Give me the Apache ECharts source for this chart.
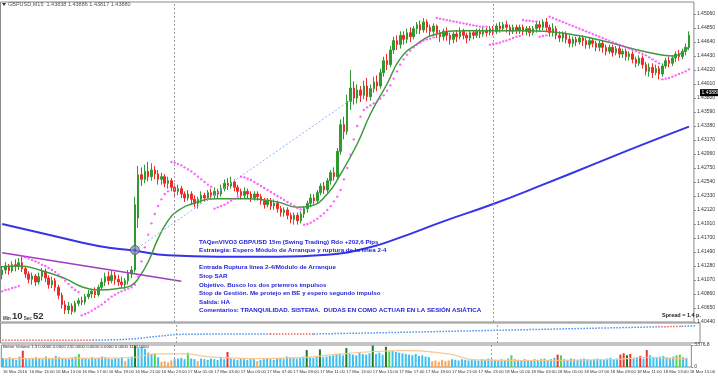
<!DOCTYPE html>
<html><head><meta charset="utf-8">
<script src="https://cdn.jsdelivr.net/npm/echarts@6/dist/echarts.min.js"></script>
<style>html,body{margin:0;padding:0;background:#fff}#c{width:718px;height:376px}</style>
</head><body><div id="c"></div>
<script>
// ---------- DATA ----------
const startTime = '2016-03-16T11:00:00Z';
const barMinutes = 15;
const headerText = 'GBPUSD,M15  1.43838 1.43886 1.43817 1.43880';
const bidPrice = 1.43880;
const priceMin = 1.4044, priceMax = 1.4524, priceStep = 0.0021;

// [open, close, low, high]
const candles = [
[1.4115,1.4122,1.4108,1.4128],[1.4122,1.4128,1.4116,1.4134],[1.4128,1.4121,1.4115,1.4131],[1.4121,1.4130,1.4118,1.4135],
[1.4130,1.4127,1.4120,1.4138],[1.4127,1.4133,1.4122,1.4140],[1.4133,1.4124,1.4119,1.4143],[1.4124,1.4116,1.4110,1.4128],
[1.4116,1.4108,1.4102,1.4120],[1.4108,1.4113,1.4100,1.4118],[1.4113,1.4104,1.4098,1.4116],[1.4104,1.4112,1.4100,1.4118],
[1.4112,1.4120,1.4106,1.4125],[1.4120,1.4110,1.4104,1.4124],[1.4110,1.4100,1.4094,1.4114],[1.4100,1.4106,1.4095,1.4112],
[1.4106,1.4096,1.4090,1.4110],[1.4096,1.4084,1.4078,1.4100],[1.4084,1.4070,1.4064,1.4088],[1.4070,1.4062,1.4056,1.4076],
[1.4062,1.4068,1.4056,1.4074],[1.4068,1.4060,1.4055,1.4072],[1.4060,1.4072,1.4058,1.4076],[1.4072,1.4076,1.4068,1.4080],
[1.4076,1.4074,1.4069,1.4082],[1.4074,1.4082,1.4070,1.4086],[1.4082,1.4086,1.4078,1.4092],[1.4086,1.4090,1.4080,1.4094],
[1.4090,1.4085,1.4080,1.4096],[1.4085,1.4096,1.4082,1.4100],[1.4096,1.4104,1.4092,1.4110],[1.4104,1.4112,1.4098,1.4118],
[1.4112,1.4106,1.4100,1.4120],[1.4106,1.4114,1.4102,1.4122],[1.4114,1.4108,1.4100,1.4119],[1.4108,1.4104,1.4098,1.4115],
[1.4104,1.4100,1.4095,1.4112],[1.4100,1.4106,1.4094,1.4110],[1.4106,1.4116,1.4100,1.4122],[1.4116,1.4122,1.4110,1.4128],
[1.4122,1.4220,1.4118,1.4232],[1.4200,1.4265,1.4185,1.4278],[1.4265,1.4258,1.4248,1.4276],[1.4258,1.4270,1.4252,1.4280],
[1.4270,1.4262,1.4255,1.4284],[1.4262,1.4272,1.4256,1.4282],[1.4272,1.4266,1.4258,1.4278],[1.4266,1.4258,1.4250,1.4272],
[1.4258,1.4262,1.4250,1.4268],[1.4262,1.4252,1.4246,1.4266],[1.4252,1.4256,1.4244,1.4262],[1.4256,1.4246,1.4240,1.4260],
[1.4246,1.4240,1.4232,1.4252],[1.4240,1.4244,1.4234,1.4250],[1.4244,1.4236,1.4230,1.4248],[1.4236,1.4230,1.4224,1.4240],
[1.4230,1.4236,1.4226,1.4242],[1.4236,1.4228,1.4220,1.4240],[1.4228,1.4222,1.4216,1.4234],[1.4222,1.4228,1.4214,1.4232],
[1.4228,1.4234,1.4222,1.4240],[1.4234,1.4230,1.4224,1.4238],[1.4230,1.4238,1.4226,1.4242],[1.4238,1.4234,1.4228,1.4244],
[1.4234,1.4240,1.4230,1.4246],[1.4240,1.4236,1.4230,1.4244],[1.4236,1.4244,1.4232,1.4250],[1.4244,1.4252,1.4240,1.4258],
[1.4252,1.4248,1.4242,1.4260],[1.4248,1.4254,1.4244,1.4262],[1.4254,1.4246,1.4240,1.4258],[1.4246,1.4240,1.4234,1.4250],
[1.4240,1.4234,1.4228,1.4244],[1.4234,1.4240,1.4230,1.4246],[1.4240,1.4236,1.4230,1.4244],[1.4236,1.4230,1.4224,1.4240],
[1.4230,1.4236,1.4226,1.4240],[1.4236,1.4232,1.4226,1.4240],[1.4232,1.4226,1.4220,1.4236],[1.4226,1.4220,1.4214,1.4230],
[1.4220,1.4226,1.4216,1.4230],[1.4226,1.4218,1.4212,1.4230],[1.4218,1.4222,1.4212,1.4228],[1.4222,1.4214,1.4208,1.4226],
[1.4214,1.4208,1.4202,1.4218],[1.4208,1.4212,1.4202,1.4216],[1.4212,1.4204,1.4198,1.4216],[1.4204,1.4198,1.4192,1.4208],
[1.4198,1.4204,1.4190,1.4208],[1.4204,1.4196,1.4190,1.4208],[1.4196,1.4206,1.4192,1.4210],[1.4206,1.4214,1.4200,1.4218],
[1.4214,1.4222,1.4208,1.4226],[1.4222,1.4230,1.4216,1.4236],[1.4230,1.4226,1.4220,1.4236],[1.4226,1.4238,1.4222,1.4242],
[1.4238,1.4248,1.4234,1.4252],[1.4248,1.4242,1.4236,1.4254],[1.4242,1.4256,1.4238,1.4260],[1.4256,1.4268,1.4250,1.4272],
[1.4268,1.4262,1.4256,1.4276],[1.4262,1.4300,1.4258,1.4305],[1.4300,1.4340,1.4295,1.4348],[1.4340,1.4330,1.4318,1.4352],
[1.4330,1.4375,1.4325,1.4385],[1.4375,1.4395,1.4362,1.4422],[1.4395,1.4380,1.4370,1.4405],[1.4380,1.4392,1.4372,1.4400],
[1.4392,1.4384,1.4374,1.4398],[1.4384,1.4398,1.4378,1.4406],[1.4398,1.4382,1.4375,1.4410],[1.4382,1.4394,1.4376,1.4400],
[1.4394,1.4404,1.4388,1.4412],[1.4404,1.4398,1.4390,1.4414],[1.4398,1.4418,1.4394,1.4424],[1.4418,1.4436,1.4412,1.4442],
[1.4436,1.4430,1.4422,1.4446],[1.4430,1.4452,1.4426,1.4458],[1.4452,1.4466,1.4446,1.4472],[1.4466,1.4460,1.4452,1.4474],
[1.4460,1.4474,1.4454,1.4480],[1.4474,1.4468,1.4460,1.4480],[1.4468,1.4478,1.4462,1.4484],[1.4478,1.4472,1.4464,1.4486],
[1.4472,1.4484,1.4468,1.4488],[1.4484,1.4490,1.4476,1.4494],[1.4490,1.4482,1.4476,1.4496],[1.4482,1.4494,1.4478,1.4500],
[1.4494,1.4486,1.4478,1.4498],[1.4486,1.4480,1.4472,1.4490],[1.4480,1.4488,1.4474,1.4492],[1.4488,1.4478,1.4470,1.4490],
[1.4478,1.4472,1.4464,1.4482],[1.4472,1.4480,1.4466,1.4484],[1.4480,1.4474,1.4466,1.4486],[1.4474,1.4468,1.4460,1.4478],
[1.4468,1.4476,1.4462,1.4480],[1.4476,1.4472,1.4464,1.4482],[1.4472,1.4480,1.4468,1.4486],[1.4480,1.4474,1.4468,1.4484],
[1.4474,1.4470,1.4462,1.4478],[1.4470,1.4478,1.4466,1.4482],[1.4478,1.4474,1.4468,1.4482],[1.4474,1.4480,1.4470,1.4484],
[1.4480,1.4476,1.4470,1.4484],[1.4476,1.4482,1.4472,1.4486],[1.4482,1.4478,1.4472,1.4486],[1.4478,1.4484,1.4474,1.4488],
[1.4484,1.4480,1.4474,1.4488],[1.4480,1.4488,1.4476,1.4492],[1.4488,1.4484,1.4478,1.4494],[1.4484,1.4490,1.4480,1.4494],
[1.4490,1.4486,1.4478,1.4496],[1.4486,1.4480,1.4474,1.4490],[1.4480,1.4486,1.4476,1.4490],[1.4486,1.4482,1.4476,1.4490],
[1.4482,1.4486,1.4476,1.4490],[1.4486,1.4480,1.4474,1.4490],[1.4480,1.4484,1.4474,1.4488],[1.4484,1.4478,1.4472,1.4488],
[1.4478,1.4484,1.4474,1.4488],[1.4484,1.4490,1.4478,1.4494],[1.4490,1.4486,1.4480,1.4496],[1.4486,1.4494,1.4482,1.4498],
[1.4494,1.4486,1.4480,1.4500],[1.4486,1.4478,1.4472,1.4490],[1.4478,1.4484,1.4472,1.4492],[1.4484,1.4474,1.4468,1.4488],
[1.4474,1.4470,1.4464,1.4480],[1.4470,1.4476,1.4464,1.4480],[1.4476,1.4468,1.4462,1.4480],[1.4468,1.4462,1.4456,1.4474],
[1.4462,1.4468,1.4456,1.4472],[1.4468,1.4464,1.4458,1.4472],[1.4464,1.4470,1.4460,1.4474],[1.4470,1.4466,1.4458,1.4474],
[1.4466,1.4460,1.4454,1.4470],[1.4460,1.4466,1.4454,1.4470],[1.4466,1.4462,1.4456,1.4470],[1.4462,1.4456,1.4450,1.4466],
[1.4456,1.4462,1.4450,1.4466],[1.4462,1.4456,1.4448,1.4466],[1.4456,1.4450,1.4444,1.4460],[1.4450,1.4456,1.4446,1.4460],
[1.4456,1.4448,1.4442,1.4460],[1.4448,1.4454,1.4444,1.4458],[1.4454,1.4446,1.4440,1.4458],[1.4446,1.4450,1.4440,1.4454],
[1.4450,1.4442,1.4436,1.4454],[1.4442,1.4446,1.4436,1.4450],[1.4446,1.4438,1.4432,1.4450],[1.4438,1.4432,1.4426,1.4442],
[1.4432,1.4440,1.4428,1.4444],[1.4440,1.4430,1.4424,1.4444],[1.4430,1.4420,1.4414,1.4434],[1.4420,1.4426,1.4412,1.4432],
[1.4426,1.4418,1.4410,1.4432],[1.4418,1.4424,1.4414,1.4430],[1.4424,1.4416,1.4408,1.4428],[1.4416,1.4428,1.4412,1.4432],
[1.4428,1.4436,1.4424,1.4440],[1.4436,1.4432,1.4426,1.4442],[1.4432,1.4440,1.4428,1.4444],[1.4440,1.4446,1.4434,1.4450],
[1.4446,1.4442,1.4436,1.4452],[1.4442,1.4450,1.4438,1.4454],[1.4450,1.4456,1.4444,1.4462],[1.4456,1.4474,1.4452,1.4480]
];

const sar = [
1.4090,1.4092,1.4093,1.4095,1.4096,1.4098,
1.4143,1.4141,1.4139,1.4137,1.4135,1.4133,1.4130,1.4128,1.4125,1.4122,1.4119,1.4115,1.4111,1.4106,1.4101,1.4096,1.4092,1.4089,
1.4054,1.4056,1.4058,1.4061,1.4064,1.4067,1.4070,1.4074,1.4078,1.4082,1.4085,1.4088,1.4090,1.4092,1.4094,1.4096,1.4100,1.4112,1.4135,1.4156,1.4175,1.4192,1.4206,1.4218,1.4228,1.4236,1.4240,
1.4284,1.4283,1.4281,1.4279,1.4276,1.4273,1.4270,1.4266,1.4262,1.4258,1.4254,1.4250,1.4247,
1.4214,1.4216,1.4218,1.4220,1.4223,1.4226,1.4229,1.4232,
1.4262,1.4261,1.4259,1.4257,1.4254,1.4251,1.4248,1.4245,1.4242,1.4239,1.4236,1.4233,1.4230,1.4227,1.4224,1.4221,1.4218,1.4215,1.4213,
1.4190,1.4191,1.4193,1.4196,1.4199,1.4203,1.4207,1.4212,1.4218,1.4225,1.4232,1.4242,1.4258,1.4275,1.4295,1.4318,1.4338,1.4352,1.4362,1.4366,
1.4369,1.4372,1.4375,1.4379,1.4384,1.4391,1.4399,1.4409,1.4420,1.4430,1.4438,1.4445,1.4451,1.4456,1.4460,1.4463,1.4466,1.4468,1.4469,1.4471,
1.4500,1.4499,1.4498,1.4497,1.4496,1.4495,1.4494,1.4493,1.4492,1.4491,1.4490,1.4489,1.4488,1.4487,1.4487,1.4487,
1.4460,1.4461,1.4462,1.4463,1.4465,1.4466,1.4468,1.4470,1.4472,1.4473,
1.4497,1.4496,1.4496,1.4495,1.4495,
1.4472,1.4473,1.4474,
1.4502,1.4500,1.4498,1.4496,1.4494,1.4492,1.4490,1.4488,1.4486,1.4484,1.4482,1.4480,1.4478,1.4476,1.4474,1.4472,1.4470,
1.4468,1.4466,1.4464,1.4462,1.4460,1.4458,1.4456,1.4454,1.4452,1.4450,1.4448,1.4446,1.4444,1.4441,1.4438,1.4435,1.4432,
1.4408,1.4409,1.4410,1.4412,1.4414,1.4416,1.4418,1.4420,1.4423
];

// moving averages read at selected bars: [barIndex, price]
const maFast = [[0,1.4127],[5,1.4128],[12,1.4121],[19,1.4109],[24,1.4097],[29,1.4092],[36,1.4095],[39,1.4099],[41,1.4109],[44,1.4134],[47,1.4169],[50,1.4196],[53,1.4211],[59,1.4224],[65,1.4229],[74,1.4229],[83,1.4224],[89,1.4216],[93,1.4218],[98,1.4236],[102,1.4266],[107,1.4311],[111,1.4356],[116,1.4401],[120,1.4439],[125,1.4461],[131,1.4476],[140,1.4481],[149,1.4481],[158,1.4481],[166,1.4479],[172,1.4475],[181,1.4466],[190,1.4454],[196,1.4447],[202,1.4443],[207,1.4457]];
const maSlow = [[0,1.4191],[14,1.4175],[29,1.4158],[40,1.4151],[50,1.4144],[65,1.4142],[83,1.4142],[98,1.4145],[110,1.4155],[119,1.4169],[133,1.4195],[148,1.4221],[163,1.4250],[178,1.4280],[193,1.4310],[207,1.4337]];
const trendLine = [[0,1.4148],[54,1.4105]];
const entryLine = [[40,1.4152],[105,1.4377]];
const entryPoint = [[40,1.4152]];

// lower oscillator (dotted), segments by colour
const oscRedSegments = [[[0,3],[27,3]],[[80,9.5],[93,9.5]],[[196,17],[203,17.5]]];
const oscBlueSegments = [[[27,3],[35,3.5],[40,4.5],[45,6.5],[52,9],[65,9.5],[80,9.5]],[[93,9.5],[110,10.5],[130,12],[150,13.5],[170,15],[196,17]],[[203,17.5],[207,18]]];

// Better Volume
const volume = [
1400,1200,1500,1300,1100,1600,2500,1300,1200,1400,1500,1300,1200,1600,1400,1300,1700,1500,1400,1300,
1200,1500,1600,2000,1300,1400,1200,1500,1300,1400,1600,1500,1300,1200,1400,1300,1500,900,1300,1600,
3300,2900,3100,2800,2200,2000,2100,1500,
800,900,700,1000,1200,1300,1400,1200,2200,1300,1200,900,
1300,1200,1100,1300,1200,1100,1400,1200,2300,1300,1200,1100,1300,1200,1100,1300,1200,900,1100,1200,
1300,1200,1100,1300,1400,1200,1600,1500,1400,1300,1500,1600,2600,1500,1400,1600,2700,1500,1600,1700,
1800,1900,2000,1800,2900,2100,1900,1800,2200,2000,1900,2100,3300,2000,2200,1900,3100,2400,2500,2300,
2200,2100,2000,1900,1800,2000,1700,1800,1600,1500,900,1000,800,1100,900,1000,1200,1100,1000,1200,
1100,1000,1200,1100,1000,1200,1100,1300,1200,1100,1000,1200,1100,1300,1800,1200,1100,1000,1200,1100,
1000,1200,1100,1200,1300,1100,1200,1400,1900,1800,1200,1100,1300,1200,1100,1200,1300,1200,1100,1200,
1300,1200,1100,1300,1400,1200,1300,1900,2100,1800,2000,1300,1400,1700,1300,2600,1800,1500,1400,1600,
1700,1500,1400,1600,1800,1900,1500,1400
];
const climaxBars = [6,68,168,187,188,190,193,195];
const churnBars = [23,46,56,117,154,169,204,205];
const climaxChurnBars = [40,92,96,104,112,116,189];
const lowVolBars = [37,48,49,50,51,59,77,130,131,132,133,134,135];
const volumeMA = [[0,1300],[30,1350],[40,1500],[46,2000],[55,2000],[62,1600],[75,1300],[90,1450],[100,1900],[110,2300],[121,2500],[135,2000],[143,1100],[160,1000],[185,1150],[195,1500],[201,1350],[207,1250]];
const volMax = 3376.8;
const volumeLabel = 'Better Volume 1.3 0.0000 0.0000 241.0000 0.0000 0.0000 0.0000 1112.0000';
const spreadText = 'Spread = 1.4 p.';
const timerMin = '10', timerSec = '52';

const noteLines = [
'TAQenVIVO3 GBP/USD 15m (Swing Trading) Rdo +202,6 Pips',
'Estrategia: Espero Módulo de Arranque y ruptura de la línea 2-4',
'',
'Entrada Ruptura línea 2-4/Módulo de Arranque',
'Stop SAR',
'Objetivo. Busco los dos priemros impulsos',
'Stop de Gestión. Me protejo en BE y espero segundo impulso',
'Salida: HA',
'Comentarios: TRANQUILIDAD. SISTEMA.  DUDAS EN COMO ACTUAR EN LA SESIÓN ASIÁTICA'
];

// ---------- BUILD ----------
const months = ['Jan','Feb','Mar','Apr','May','Jun','Jul','Aug','Sep','Oct','Nov','Dec'];
const t0 = new Date(startTime).getTime();
const categories = [], daySeparators = [];
for (let i = 0; i <= candles.length; i++) {
  const d = new Date(t0 + i * barMinutes * 60000);
  const hh = String(d.getUTCHours()).padStart(2,'0'), mm = String(d.getUTCMinutes()).padStart(2,'0');
  const day = d.getUTCDate() + ' ' + months[d.getUTCMonth()];
  categories.push(i === 0 ? day + ' ' + d.getUTCFullYear() : day + ' ' + hh + ':' + mm);
  if (hh === '00' && mm === '00') daySeparators.push(i);
}

const C = {
  up:'#2f9a2f', down:'#ee2b2b', maFast:'#3c9a3c', maSlow:'#3434e8', trend:'#a23cc4',
  entry:'#8fb4f4', sar:'#ff3dff', volBase:'#3cc0f0', volClimax:'#ee3030', volChurn:'#4cd64c',
  volCC:'#1e7a1e', volLow:'#f7a65a', volMA:'#f6c896', osRed:'#f06060', osBlue:'#4a90ee',
  border:'#8a8a8a', text:'#333', note:'#2424d6', sep:'#a0a0a0'
};
function volColor(i){
  if (climaxChurnBars.includes(i)) return C.volCC;
  if (climaxBars.includes(i)) return C.volClimax;
  if (churnBars.includes(i)) return C.volChurn;
  if (lowVolBars.includes(i)) return C.volLow;
  return C.volBase;
}
const sepLine = (idxs) => ({
  symbol:'none', silent:true, animation:false,
  lineStyle:{color:C.sep, type:[2,2], width:1}, label:{show:false},
  data: idxs.map(i => ({xAxis: categories[i]}))
});

const gridCommon = {left:0.5, right:18, show:true, borderColor:C.border, borderWidth:1, backgroundColor:'#fff'};
const xCommon = (g, showLabel) => ({
  type:'category', gridIndex:g, data:categories, boundaryGap:true,
  axisLine:{show:false}, axisTick:{show:false}, splitLine:{show:false},
  axisLabel: showLabel ? {show:true, interval:(i)=> i % 8 === 0, showMinLabel:true, showMaxLabel:true, align:'left', fontSize:4.3, color:C.text, margin:3, fontFamily:'Liberation Sans', hideOverlap:false} : {show:false}
});

const series = [];
series.push({
  type:'candlestick', xAxisIndex:0, yAxisIndex:0, data:candles, barWidth:2,
  itemStyle:{color:C.up, color0:C.down, borderColor:C.up, borderColor0:C.down, borderWidth:1},
  markLine: sepLine(daySeparators)
});
series.push({type:'line', xAxisIndex:0, yAxisIndex:0, data:maSlow, smooth:true, showSymbol:false, lineStyle:{color:C.maSlow, width:2}, z:3});
series.push({type:'line', xAxisIndex:0, yAxisIndex:0, data:maFast, smooth:true, showSymbol:false, lineStyle:{color:C.maFast, width:1.5}, z:4});
series.push({type:'line', xAxisIndex:0, yAxisIndex:0, data:trendLine, showSymbol:false, lineStyle:{color:C.trend, width:1.5}, z:4});
series.push({type:'line', xAxisIndex:0, yAxisIndex:0, data:entryLine, showSymbol:false, lineStyle:{color:C.entry, width:1, type:[2,2]}, z:4});
series.push({type:'scatter', xAxisIndex:0, yAxisIndex:0, data:sar.map((v,i)=>[i,v]), symbolSize:2.4, itemStyle:{color:C.sar}, z:5});
series.push({type:'scatter', xAxisIndex:0, yAxisIndex:0, data:entryPoint, symbolSize:9, itemStyle:{color:'#8a97aa', borderColor:'#4a5566', borderWidth:1}, z:6});
series.push({type:'scatter', xAxisIndex:0, yAxisIndex:0, data:entryPoint, symbolSize:3, itemStyle:{color:'#2a44ff'}, z:7});

oscRedSegments.forEach(seg => series.push({type:'line', xAxisIndex:1, yAxisIndex:1, data:seg, showSymbol:false, lineStyle:{color:C.osRed, width:1.5, type:[1.5,1.5]}}));
oscBlueSegments.forEach(seg => series.push({type:'line', xAxisIndex:1, yAxisIndex:1, data:seg, showSymbol:false, lineStyle:{color:C.osBlue, width:1.5, type:[1.5,1.5]}}));
series.push({type:'line', xAxisIndex:1, yAxisIndex:1, data:[], markLine: sepLine(daySeparators)});

series.push({type:'bar', xAxisIndex:2, yAxisIndex:2, barWidth:2,
  data: volume.map((v,i)=>({value:v, itemStyle:{color:volColor(i)}})),
  markLine: sepLine(daySeparators)});
series.push({type:'line', xAxisIndex:2, yAxisIndex:2, data:volumeMA, smooth:true, showSymbol:false, lineStyle:{color:C.volMA, width:1.2}, z:4});

const chart = echarts.init(document.getElementById('c'), null, {renderer:'canvas'});
chart.setOption({
  animation:false,
  backgroundColor:'#fff',
  textStyle:{fontFamily:'Liberation Sans'},
  grid:[
    {...gridCommon, top:2, height:320},
    {...gridCommon, top:323, height:20},
    {...gridCommon, top:345, height:22}
  ],
  xAxis:[xCommon(0,false), xCommon(1,false), xCommon(2,true)],
  yAxis:[
    {type:'value', gridIndex:0, position:'right', min:priceMin, max:priceMax, interval:priceStep,
     axisLine:{show:false}, axisTick:{show:true, length:2, lineStyle:{color:C.border}}, splitLine:{show:false},
     axisLabel:{fontSize:5, color:C.text, margin:3, showMaxLabel:false, formatter:v=>v.toFixed(5)}},
    {type:'value', gridIndex:1, min:0, max:21, show:false},
    {type:'value', gridIndex:2, position:'right', min:0, max:volMax, interval:volMax,
     axisLine:{show:false}, axisTick:{show:true, length:2, lineStyle:{color:C.border}}, splitLine:{show:false},
     axisLabel:{fontSize:5, color:C.text, margin:3, formatter:v=> v === 0 ? '0' : v.toFixed(1)}}
  ],
  title:[
    {text:headerText, left:8, top:1.5, padding:0, textStyle:{fontSize:5.5, color:'#555', fontWeight:'normal'}},
    {text:noteLines.join('\n'), left:199, top:237.5, padding:0, textStyle:{fontSize:6.2, lineHeight:8.6, color:C.note, fontWeight:'bold', fontFamily:'Liberation Sans'}},
    {text:'{s|Min }{b|' + timerMin + '}{s| Sec }{b|' + timerSec + '}', left:3, top:311, padding:0,
      textStyle:{rich:{s:{fontSize:4.5, color:'#444', verticalAlign:'bottom'}, b:{fontSize:9.5, color:'#333', verticalAlign:'bottom'}}}},
    {text:spreadText, left:662, top:312.5, padding:0, textStyle:{fontSize:5.5, color:'#222', fontWeight:'bold'}},
    {text:volumeLabel, left:3, top:345, padding:0, textStyle:{fontSize:4.3, color:'#333', fontWeight:'normal'}}
  ],
  series
});
// bid price tag on the price axis, placed through the axis scale
const bidY = chart.convertToPixel({yAxisIndex:0}, bidPrice);
chart.setOption({graphic:[
  {type:'polygon', shape:{points:[[2,3],[6,3],[4,6]]}, style:{fill:'#333'}},
  {type:'rect', shape:{x:700, y:bidY-3.5, width:18, height:7}, style:{fill:'#000'}, z:100},
  {type:'text', x:701.5, y:bidY, style:{text:bidPrice.toFixed(5), fill:'#fff', fontSize:5, verticalAlign:'middle', fontFamily:'Liberation Sans'}, z:101}
]});
</script></body></html>
